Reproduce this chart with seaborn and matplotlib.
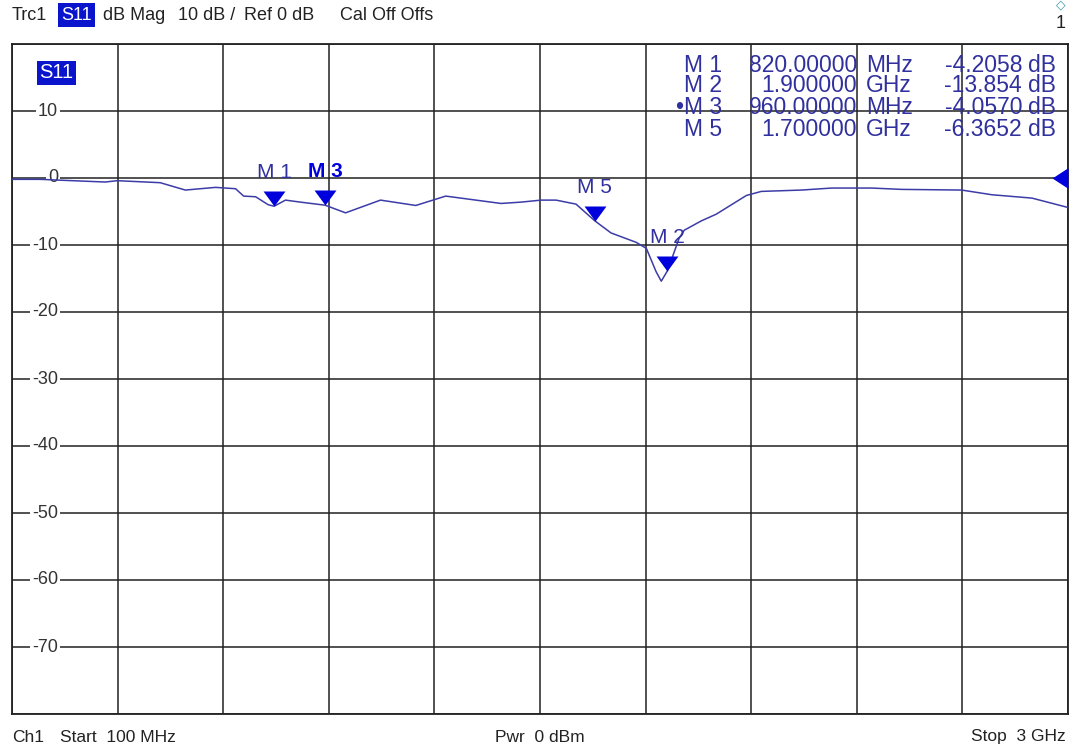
"""
VNA screen capture: S11 dB Mag trace with markers.
Run: python plot.py
"""

import numpy as np
import pandas as pd
import matplotlib
matplotlib.use("Agg")
import matplotlib.pyplot as plt
from matplotlib.path import Path
import seaborn as sns

# trace (MHz, dB)
freq_mhz = [100, 177, 356, 389, 507, 576, 659, 714, 736, 769, 804, 820, 851,
            892, 960, 1016, 1112, 1209, 1291, 1443, 1498, 1553, 1594, 1649,
            1700, 1745, 1814, 1842, 1869, 1883, 1900, 1932, 1946, 1993, 2034,
            2117, 2158, 2268, 2351, 2461, 2543, 2708, 2791, 2901, 3000]
s11_db = [-0.2, -0.2, -0.6, -0.4, -0.7, -1.8, -1.4, -1.6, -2.7, -2.8, -4.0,
          -4.21, -3.3, -3.6, -4.06, -5.2, -3.3, -4.1, -2.7, -3.8, -3.6, -3.3,
          -3.3, -3.9, -6.37, -8.2, -9.6, -10.5, -14.0, -15.4, -13.85, -9.0,
          -7.8, -6.4, -5.4, -2.6, -2.0, -1.8, -1.5, -1.5, -1.7, -1.8, -2.5,
          -3.0, -4.4]

# markers
marker_names = ["M 1", "M 2", "M 3", "M 5"]
marker_freq = [820, 1900, 960, 1700]
marker_db = [-4.2058, -13.854, -4.0570, -6.3652]
marker_stim = ["820.00000", "1.900000", "960.00000", "1.700000"]
marker_unit = ["MHz", "GHz", "MHz", "GHz"]
active_marker = "M 3"

F_START, F_STOP = 100, 3000
DB_TOP, DB_BOTTOM = 20, -80
ytick_vals = [10, 0, -10, -20, -30, -40, -50, -60, -70]

W, H = 1072, 749
TRACE_COL = "#3c3ca8"
MARK_COL = "#0000dd"
TEXT_BLUE = "#30309e"
GRID_COL = "#222222"


def px(x, y):
    return x / W, 1 - y / H


def main():
    sns.set_theme(style="white")
    plt.rcParams["font.family"] = ["Liberation Sans", "DejaVu Sans"]

    fig = plt.figure(figsize=(W / 100, H / 100), dpi=100)
    l, b = px(12, 714)
    r, t = px(1068, 44)
    ax = fig.add_axes([l, b, r - l, t - b])

    df = pd.DataFrame({"f": freq_mhz, "db": s11_db})
    sns.lineplot(data=df, x="f", y="db", ax=ax, color=TRACE_COL, lw=1.1,
                 zorder=5)

    ax.set_xlim(F_START, F_STOP)
    ax.set_ylim(DB_BOTTOM, DB_TOP)
    ax.set_xticks(np.linspace(F_START, F_STOP, 11))
    ax.set_yticks(np.arange(DB_BOTTOM, DB_TOP + 1, 10))
    ax.set_xticklabels([])
    ax.set_yticklabels([])
    ax.tick_params(length=0)
    ax.set_xlabel("")
    ax.set_ylabel("")
    ax.grid(True, color=GRID_COL, lw=1.1)
    for sp in ax.spines.values():
        sp.set_color(GRID_COL)
        sp.set_linewidth(1.3)

    # y labels sitting on the grid lines
    yt = ax.get_yaxis_transform()
    lab_x = (58 - 12) / (1068 - 12)
    for v in ytick_vals:
        ax.text(lab_x, v, f"{v}", transform=yt, ha="right", va="center",
                fontsize=13, color="#333333", zorder=4,
                bbox=dict(fc="white", ec="none", pad=1.5))

    # marker triangles with tip on the trace
    tri_down = Path([(0, 0), (-0.73, 1), (0.73, 1), (0, 0)],
                    [Path.MOVETO, Path.LINETO, Path.LINETO, Path.CLOSEPOLY])
    for name, f, d in zip(marker_names, marker_freq, marker_db):
        ax.plot([f], [d], marker=tri_down, ms=21.6, color=MARK_COL, mec="none",
                ls="none", zorder=6)
        bold = name == active_marker
        ax.annotate(name, (f, d), xytext=(0, 24), textcoords="offset points",
                    ha="center", va="center", fontsize=15,
                    fontweight="bold" if bold else "normal",
                    color=MARK_COL if bold else TEXT_BLUE, zorder=7)

    # reference level arrow, base on the right frame, tip pointing left
    tri_left = Path([(-1, 0), (0, -0.65), (0, 0.65), (-1, 0)],
                    [Path.MOVETO, Path.LINETO, Path.LINETO, Path.CLOSEPOLY])
    ax.plot([F_STOP], [0], marker=tri_left, ms=23, color=MARK_COL, mec="none",
            ls="none", clip_on=False, zorder=6)

    # trace name box inside the grid
    fig.text(*px(39, 73), "S11", ha="left", va="center", fontsize=14.5,
             color="white", bbox=dict(fc="#0a14cc", ec="none", pad=1.8),
             zorder=10)

    # marker table
    row_y = [65, 86, 108, 129]
    tfs = 16.5
    for i, name in enumerate(marker_names):
        y = row_y[i]
        label = ("\u2022" + name) if name == active_marker else name
        cells = [(722, "right", label), (857, "right", marker_stim[i]),
                 (866, "left", marker_unit[i]),
                 (1022, "right", f"{marker_db[i]:#.5g}"),
                 (1028, "left", "dB")]
        for x, ha, s in cells:
            fig.text(*px(x, y), s, ha=ha, va="center", fontsize=tfs,
                     color=TEXT_BLUE, zorder=10)

    # header line
    hy = 15
    hdr = dict(va="center", fontsize=13, color="#222222")
    fig.text(*px(12, hy), "Trc1", ha="left", **hdr)
    fig.text(*px(61, hy), "S11", ha="left", va="center", fontsize=13,
             color="white", bbox=dict(fc="#0a14cc", ec="none", pad=2.5))
    fig.text(*px(103, hy), "dB Mag", ha="left", **hdr)
    fig.text(*px(178, hy), "10 dB /", ha="left", **hdr)
    fig.text(*px(244, hy), "Ref 0 dB", ha="left", **hdr)
    fig.text(*px(340, hy), "Cal Off Offs", ha="left", **hdr)
    fig.text(*px(1066, 24), "1", ha="right", **hdr)
    fig.text(*px(1061, 5), "\u25c7", ha="center", va="center", fontsize=9,
             color="#3a9aa8", family="DejaVu Sans")

    # footer line
    fy = 737
    ftr = dict(va="center", fontsize=12.5, color="#222222")
    fig.text(*px(12, fy), "Ch1", ha="left", **ftr)
    fig.text(*px(60, fy), "Start  100 MHz", ha="left", **ftr)
    fig.text(*px(540, fy), "Pwr  0 dBm", ha="center", **ftr)
    fig.text(*px(1066, fy), "Stop  3 GHz", ha="right", **ftr)

    fig.savefig("out.png", dpi=100)
    plt.close(fig)


if __name__ == "__main__":
    main()
